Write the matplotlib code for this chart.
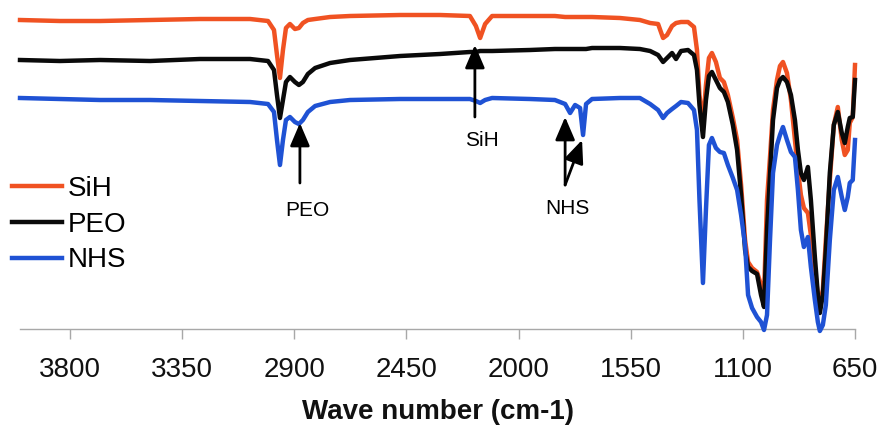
import matplotlib
matplotlib.use("Agg")
import matplotlib.pyplot as plt

plt.rcParams['font.family'] = ['Liberation Sans', 'DejaVu Sans']

wavenumber = [4000, 3840, 3679, 3478, 3278, 3077, 3005, 2981, 2969, 2957,
              2945, 2933, 2917, 2897, 2881, 2865, 2845, 2816, 2756, 2676,
              2475, 2315, 2195, 2171, 2154, 2134, 2106, 1954, 1854, 1813,
              1793, 1773, 1753, 1741, 1729, 1705, 1593, 1513, 1472, 1440,
              1420, 1404, 1384, 1368, 1348, 1320, 1296, 1284, 1274, 1260,
              1248, 1236, 1224, 1208, 1192, 1176, 1160, 1140, 1123, 1107,
              1091, 1079, 1063, 1043, 1027, 1015, 1003, 991, 979, 963,
              951, 939, 923, 907, 891, 879, 867, 855, 839, 827,
              811, 799, 791, 779, 767, 751, 735, 719, 703, 691,
              679, 671, 659, 650]

sih = [309, 308, 308, 309, 310, 310, 308, 299, 274, 251,
       279, 301, 305, 300, 301, 306, 309, 310, 312, 313,
       314, 314, 313, 303, 291, 305, 313, 313, 313, 312,
       312, 312, 312, 312, 312, 312, 311, 309, 306, 305,
       291, 294, 303, 306, 307, 307, 302, 279, 234, 204,
       244, 271, 276, 267, 251, 247, 234, 211, 189, 144,
       89, 67, 61, 57, 44, 34, 129, 172, 219, 249,
       263, 267, 256, 229, 189, 159, 134, 121, 116, 94,
       59, 34, 24, 39, 89, 149, 204, 222, 189, 174,
       179, 206, 212, 264]

peo = [269, 268, 269, 268, 270, 270, 268, 259, 234, 211,
       229, 247, 252, 247, 244, 247, 255, 261, 266, 269,
       273, 275, 277, 277, 278, 278, 278, 279, 280, 280,
       280, 280, 280, 280, 280, 281, 281, 280, 278, 274,
       267, 271, 276, 270, 278, 279, 274, 259, 224, 192,
       229, 253, 257, 249, 241, 237, 227, 204, 179, 134,
       79, 62, 58, 55, 34, 22, 99, 154, 209, 241,
       249, 252, 247, 234, 209, 179, 156, 149, 162, 129,
       72, 34, 16, 34, 79, 156, 204, 217, 196, 186,
       202, 211, 212, 249]

nhs = [231, 230, 229, 229, 228, 227, 225, 217, 189, 164,
       189, 209, 212, 207, 205, 209, 217, 223, 227, 229,
       230, 230, 230, 228, 226, 229, 231, 230, 229, 225,
       216, 224, 221, 194, 225, 230, 231, 231, 225, 219,
       211, 216, 220, 223, 227, 226, 219, 199, 129, 46,
       119, 184, 191, 181, 177, 176, 164, 151, 139, 114,
       84, 34, 21, 12, 7, -1, 14, 89, 156, 184,
       194, 202, 189, 177, 172, 139, 99, 82, 92, 62,
       29, 7, -2, 4, 24, 89, 139, 152, 132, 119,
       132, 146, 149, 189]

series_names = ['SiH', 'PEO', 'NHS']
series_colors = ['#F05222', '#0a0a0a', '#1F52D4']
tick_values = [3800, 3350, 2900, 2450, 2000, 1550, 1100, 650]

fig = plt.figure(figsize=(8.81, 4.29), dpi=100)
ax = fig.add_axes([20 / 881, 100 / 429, 835 / 881, 324 / 429])

for vals, name, col, z in zip([sih, peo, nhs], series_names, series_colors, [2, 3, 4]):
    ax.plot(wavenumber, vals, color=col, lw=3.2, label=name, zorder=z,
            clip_on=False, solid_joinstyle='round')

ax.set_xlim(4000, 650)
ax.set_ylim(0, 324)
ax.set_xticks(tick_values)
ax.set_xticklabels([str(t) for t in tick_values])
ax.set_yticks([])
for s in ['left', 'top', 'right']:
    ax.spines[s].set_visible(False)
ax.spines['bottom'].set_color('#a8a8a8')
ax.spines['bottom'].set_linewidth(1.0)
ax.tick_params(axis='x', direction='out', length=7, width=1, color='#a8a8a8',
               labelsize=20, pad=13, labelcolor='#111111')
ax.set_xlabel('Wave number (cm-1)', fontsize=20, fontweight='bold', labelpad=12,
              color='#111111')

arrow_kw = dict(arrowstyle='-|>,head_length=0.7,head_width=0.3', color='black',
                lw=2, mutation_scale=20, shrinkA=0, shrinkB=0)
ax.annotate('', xy=(2877, 206), xytext=(2877, 146), arrowprops=arrow_kw, zorder=6)
ax.text(2849, 118, 'PEO', fontsize=15, ha='center', va='center')

ax.annotate('', xy=(2175, 284), xytext=(2175, 212), arrowprops=arrow_kw, zorder=6)
ax.text(2146, 188, 'SiH', fontsize=15, ha='center', va='center')

ax.annotate('', xy=(1813, 212), xytext=(1813, 144), arrowprops=arrow_kw, zorder=6)
ax.annotate('', xy=(1745, 189), xytext=(1813, 144), arrowprops=arrow_kw, zorder=6)
ax.text(1805, 120, 'NHS', fontsize=15, ha='center', va='center')

leg = ax.legend(loc='upper left', bbox_to_anchor=(12 / 881, 1 - 176 / 429),
                bbox_transform=fig.transFigure, frameon=False, fontsize=20,
                handlelength=1.8, handletextpad=0.2, labelspacing=0.35,
                borderpad=0, borderaxespad=0)
for line in leg.get_lines():
    line.set_linewidth(3.2)

fig.savefig('out.png', dpi=100)
